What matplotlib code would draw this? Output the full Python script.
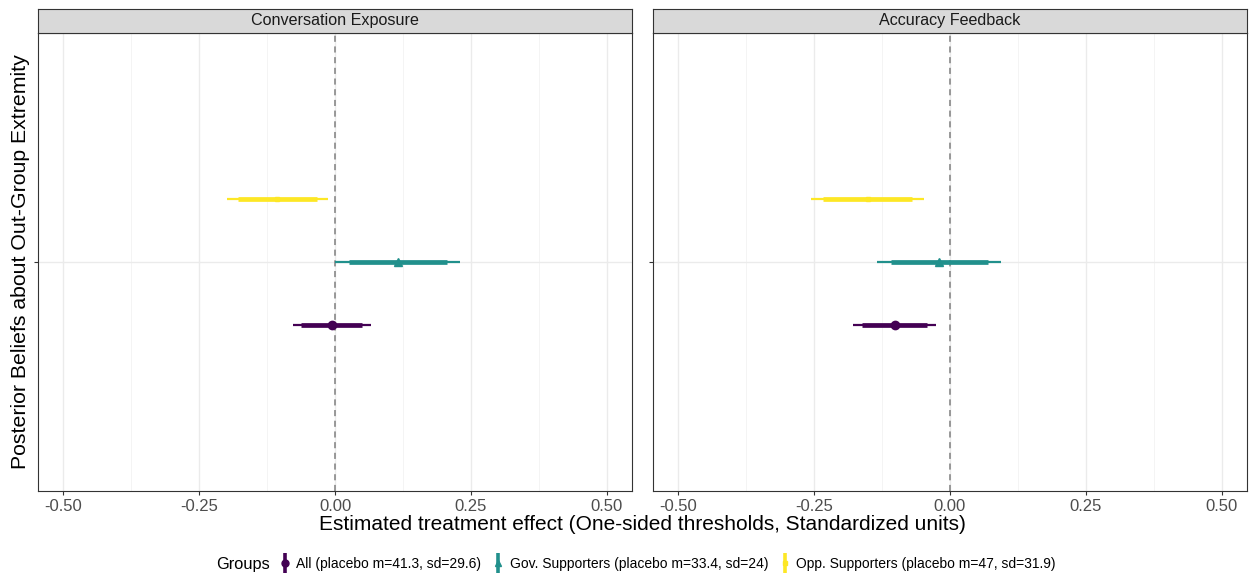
import numpy as np
import matplotlib
matplotlib.use("Agg")
import matplotlib.pyplot as plt
from matplotlib.lines import Line2D

plt.rcParams['font.family'] = ['Liberation Sans', 'DejaVu Sans']

# data
panels = ["Conversation Exposure", "Accuracy Feedback"]
groups = ["All (placebo m=41.3, sd=29.6)",
          "Gov. Supporters (placebo m=33.4, sd=24)",
          "Opp. Supporters (placebo m=47, sd=31.9)"]
colors = ["#440154", "#21908C", "#FDE725"]
markers = ["o", "^", "s"]

# estimate, inner (thick) interval, outer (thin) interval per panel, per group
est = [[-0.006, 0.115, -0.106],
       [-0.102, -0.020, -0.151]]
inner_lo = [[-0.063, 0.026, -0.179],
            [-0.162, -0.108, -0.233]]
inner_hi = [[0.050, 0.205, -0.034],
            [-0.043, 0.069, -0.070]]
outer_lo = [[-0.078, 0.000, -0.199],
            [-0.178, -0.134, -0.256]]
outer_hi = [[0.066, 0.230, -0.013],
            [-0.026, 0.093, -0.047]]

xticks = [-0.5, -0.25, 0.0, 0.25, 0.5]
xticklabels = ["-0.50", "-0.25", "0.00", "0.25", "0.50"]
dodge = [-0.165, 0.0, 0.165]

W, H = 1249, 576
fig = plt.figure(figsize=(W / 100, H / 100), dpi=100)

lefts = [38, 653]
pw = 594
ptop, pbot = 33, 491
strip_top = 9

for p in range(2):
    ax = fig.add_axes([lefts[p] / W, (H - pbot) / H, pw / W, (pbot - ptop) / H])
    ax.set_xlim(-0.546, 0.546)
    ax.set_ylim(0.4, 1.6)
    ax.set_xticks(xticks)
    ax.set_xticklabels(xticklabels)
    ax.set_xticks([-0.375, -0.125, 0.125, 0.375], minor=True)
    ax.set_yticks([1])
    ax.set_yticklabels([""])
    ax.grid(True, which="major", color="#EBEBEB", lw=1.0, zorder=0)
    ax.grid(True, which="minor", axis="x", color="#F3F3F3", lw=0.6, zorder=0)
    ax.set_axisbelow(True)
    ax.tick_params(axis="both", which="major", length=3, color="#333333",
                   labelsize=12, labelcolor="#4D4D4D", pad=3)
    ax.tick_params(axis="x", which="minor", length=0)
    for s in ax.spines.values():
        s.set_color("#333333")
        s.set_linewidth(0.8)
    ax.axvline(0, color="#7F7F7F", ls=(0, (4, 3)), lw=1.1, zorder=1)

    for g in range(3):
        y = 1 + dodge[g]
        ax.hlines(y, outer_lo[p][g], outer_hi[p][g], color=colors[g], lw=1.6, zorder=2)
        ax.hlines(y, inner_lo[p][g], inner_hi[p][g], color=colors[g], lw=3.4, zorder=3)
        ms = 6 if markers[g] != "s" else 3.5
        ax.plot(est[p][g], y, marker=markers[g], color=colors[g], ms=ms,
                mec=colors[g], zorder=4)

    # facet strip
    sax = fig.add_axes([lefts[p] / W, (H - ptop) / H, pw / W, (ptop - strip_top) / H])
    sax.set_facecolor("#D9D9D9")
    sax.set_xticks([])
    sax.set_yticks([])
    for s in sax.spines.values():
        s.set_color("#333333")
        s.set_linewidth(0.8)
    sax.text(0.5, 0.5, panels[p], ha="center", va="center", fontsize=11.6,
             color="#1A1A1A", transform=sax.transAxes)

fig.text(642 / W, 1 - 524 / H, "Estimated treatment effect (One-sided thresholds, Standardized units)",
         ha="center", va="center", fontsize=15)
fig.text(21 / W, 1 - 262 / H, "Posterior Beliefs about Out-Group Extremity",
         ha="center", va="center", rotation=90, fontsize=15.3)

# legend
handles = []
for g in range(3):
    bar = Line2D([], [], ls="none", marker="|", ms=15, mew=2.6, color=colors[g])
    pt = Line2D([], [], ls="none", marker=markers[g], ms=5 if markers[g] != "s" else 3,
                color=colors[g])
    handles.append((bar, pt))
fig.text(216 / W, 1 - 564 / H, "Groups", ha="left", va="center", fontsize=11.8)
fig.legend(handles, groups, loc="center left", bbox_to_anchor=(278 / W, 1 - 564 / H),
           ncol=3, frameon=False, fontsize=10.0, handlelength=1.0, handletextpad=0.3,
           columnspacing=0.75, borderaxespad=0, borderpad=0)

fig.savefig("out.png", dpi=100, facecolor="white")
